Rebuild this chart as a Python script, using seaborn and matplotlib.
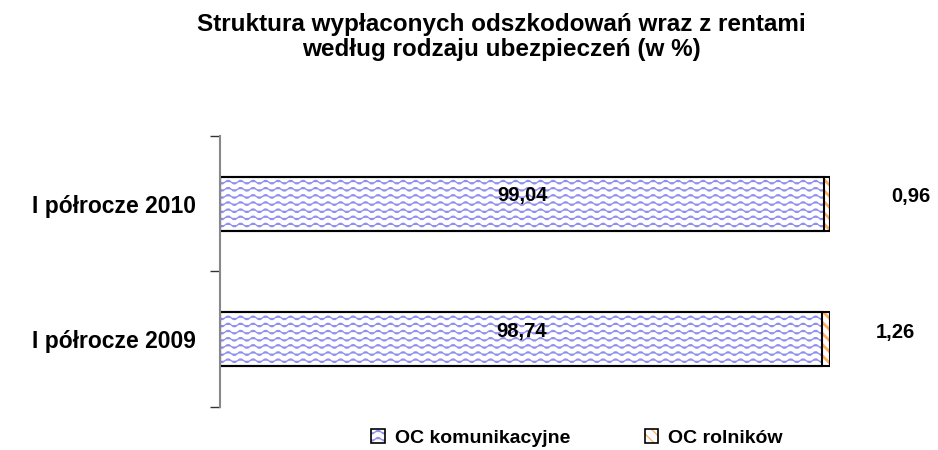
import numpy as np
import pandas as pd
import matplotlib.pyplot as plt
import matplotlib.patches as mpatches
import matplotlib.hatch as mhatch
from matplotlib.path import Path
from matplotlib.legend_handler import HandlerTuple
import seaborn as sns

# dane
okresy = ['I półrocze 2010', 'I półrocze 2009']
oc_komunikacyjne = [99.04, 98.74]
oc_rolnikow = [0.96, 1.26]
etykiety_kom = ['99,04', '98,74']
etykiety_rol = ['0,96', '1,26']

BLUE = '#8f8ff0'
ORANGE = '#ffb060'


class WaveHatch(mhatch.HatchPatternBase):
    # falista kreska jak w excelu, podmienia wzor '-'
    def __init__(self, hatch, density):
        self.num_lines = 14 if '-' in hatch else 0
        self.num_points = 49
        self.num_vertices = self.num_lines * self.num_points

    def set_vertices_and_codes(self, vertices, codes):
        steps, stepsize = np.linspace(0.0, 1.0, self.num_lines, False, retstep=True)
        steps += stepsize / 2.
        xs = np.linspace(0.0, 1.0, self.num_points)
        wave = 0.019 * np.sin(2 * np.pi * 8 * xs)
        n = self.num_points
        for i, s in enumerate(steps):
            vertices[i * n:(i + 1) * n, 0] = xs
            vertices[i * n:(i + 1) * n, 1] = s + wave
            codes[i * n:(i + 1) * n] = Path.LINETO
            codes[i * n] = Path.MOVETO


mhatch._hatch_types[0] = WaveHatch

sns.set_theme(style="white")
plt.rcParams['font.family'] = ['Liberation Sans', 'DejaVu Sans']
plt.rcParams['text.color'] = 'black'
plt.rcParams['ytick.labelcolor'] = 'black'
plt.rcParams['hatch.linewidth'] = 0.9

df = pd.DataFrame({'okres': okresy, 'kom': oc_komunikacyjne, 'rol': oc_rolnikow})
df['razem'] = df['kom'] + df['rol']

fig = plt.figure(figsize=(9.38, 4.5), dpi=100)
ax = fig.add_axes([0.2345, 0.0956, 0.6504, 0.6022])

# warstwa pomaranczowa (cala dlugosc), potem niebieska, potem obrysy
sns.barplot(data=df, y='okres', x='razem', orient='h', color='white', saturation=1,
            edgecolor=ORANGE, linewidth=0, hatch='\\\\\\', width=0.4, errorbar=None, ax=ax)
sns.barplot(data=df, y='okres', x='kom', orient='h', color='white', saturation=1,
            edgecolor=BLUE, linewidth=0, hatch='-', width=0.4, errorbar=None, ax=ax)
sns.barplot(data=df, y='okres', x='razem', orient='h', color='black', fill=False,
            linewidth=1.5, width=0.4, errorbar=None, ax=ax)
sns.barplot(data=df, y='okres', x='kom', orient='h', color='black', fill=False,
            linewidth=1.5, width=0.4, errorbar=None, ax=ax)

for p in ax.containers[0]:
    if hasattr(p, 'set_hatch_linewidth'):
        p.set_hatch_linewidth(2.0)

for i, row in df.iterrows():
    ax.text(row['kom'] / 2, i - 0.06, etykiety_kom[i], ha='center', va='center',
            fontsize=14.5, fontweight='bold')
dx = [81, 65]
for i, row in df.iterrows():
    ax.annotate(etykiety_rol[i], xy=(row['razem'], i), xytext=(dx[i], 7),
                textcoords='offset pixels', ha='center', va='center',
                fontsize=14.5, fontweight='bold')

ax.set_xlim(0, 100)
ax.set_ylim(1.5, -0.5)
ax.set_xlabel('')
ax.set_ylabel('')
ax.set_xticks([])
ax.set_yticks([-0.5, 0.5, 1.5])
ax.set_yticklabels([])
ax.set_yticks([0, 1], minor=True)
ax.set_yticklabels(okresy, minor=True, fontsize=16.5, fontweight='bold')
ax.tick_params(axis='y', which='major', length=7, width=1, color='#333333', left=True)
ax.tick_params(axis='y', which='minor', length=0, pad=17, left=True)
for s in ['top', 'right', 'bottom']:
    ax.spines[s].set_visible(False)
ax.spines['left'].set_color('#888888')
ax.spines['left'].set_linewidth(1.5)

fig.text(0.535, 0.972, 'Struktura wypłaconych odszkodowań wraz z rentami\nwedług rodzaju ubezpieczeń (w %)',
         ha='center', va='top', fontsize=17.5, fontweight='bold', linespacing=1.15)

h_kom = (mpatches.Patch(facecolor='white', edgecolor=BLUE, hatch='-', linewidth=0),
         mpatches.Patch(facecolor='none', edgecolor='black', linewidth=1.2))
h_rol = (mpatches.Patch(facecolor='white', edgecolor=ORANGE, hatch='\\\\\\', linewidth=0),
         mpatches.Patch(facecolor='none', edgecolor='black', linewidth=1.2))
fig.legend([h_kom, h_rol], ['OC komunikacyjne', 'OC rolników'],
           handler_map={tuple: HandlerTuple(ndivide=1)},
           loc='center', bbox_to_anchor=(0.615, 0.027), ncol=2, frameon=False,
           handlelength=0.7, handleheight=0.7, handletextpad=0.5, columnspacing=3.85,
           prop={'weight': 'bold', 'size': 14})

fig.savefig('out.png', dpi=100)
